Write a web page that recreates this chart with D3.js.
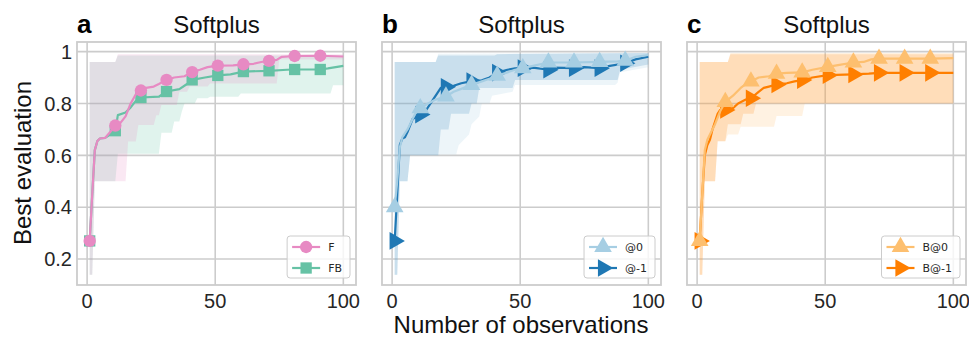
<!DOCTYPE html>
<html><head><meta charset="utf-8">
<script src="https://cdn.jsdelivr.net/npm/d3@7"></script>
<style>body{margin:0;background:#fff}svg{display:block}</style>
</head><body><svg id="c" width="969" height="339"></svg>
<script>
// ---------- data ----------
const xTicks = [0, 50, 100];
const yTicks = [0.2, 0.4, 0.6, 0.8, 1];
const yTickLabels = ["0.2", "0.4", "0.6", "0.8", "1"];
const panelLetters = ["a", "b", "c"];
const panelTitles = ["Softplus", "Softplus", "Softplus"];
const xLabel = "Number of observations";
const yLabel = "Best evaluation";

// Panel a
const F_mean = [[1,0.27],[2,0.45],[3,0.62],[4,0.655],[5,0.665],[7,0.667],[9,0.69],[11,0.715],[13,0.725],[15,0.75],[17,0.8],[19,0.835],[21,0.85],[23,0.86],[26,0.865],[28,0.875],[31,0.891],[34,0.9],[38,0.905],[41,0.921],[44,0.93],[47,0.94],[51,0.946],[57,0.947],[61,0.951],[65,0.953],[68,0.96],[71,0.964],[74,0.968],[76,0.98],[81,0.983],[91,0.984],[100,0.981]];
const F_lo = [[1,0.14],[2,0.14],[3,0.5],[15,0.5],[16,0.653],[19,0.653],[20,0.717],[26,0.717],[27,0.755],[28,0.755],[29,0.794],[35,0.794],[36,0.845],[39,0.845],[40,0.865],[47,0.865],[48,0.877],[74,0.877],[75,0.97],[100,0.97]];
const F_hi = [[1,0.96],[11,0.96],[12,0.99],[100,0.99]];
const FB_mean = [[1,0.27],[2,0.45],[3,0.62],[4,0.655],[5,0.665],[7,0.667],[9,0.68],[11,0.695],[12,0.755],[15,0.765],[17,0.785],[19,0.81],[21,0.823],[28,0.826],[31,0.846],[36,0.855],[39,0.875],[41,0.891],[46,0.9],[51,0.908],[56,0.912],[61,0.923],[71,0.926],[78,0.93],[81,0.931],[91,0.931],[94,0.935],[100,0.945]];
const FB_lo = [[1,0.14],[2,0.14],[3,0.5],[11,0.5],[12,0.606],[28,0.606],[29,0.687],[33,0.687],[34,0.73],[36,0.73],[37,0.77],[38,0.8],[42,0.8],[43,0.82],[47,0.82],[48,0.826],[59,0.826],[60,0.838],[95,0.838],[96,0.87],[100,0.87]];
const FB_hi = [[1,0.96],[11,0.96],[12,0.985],[100,0.985]];

// Panel b
const A0_mean = [[1,0.40],[2,0.50],[3,0.63],[4,0.67],[6,0.70],[9,0.76],[11,0.782],[14,0.80],[17,0.815],[21,0.827],[24,0.845],[28,0.86],[31,0.872],[35,0.885],[38,0.895],[41,0.907],[45,0.92],[48,0.93],[51,0.936],[55,0.945],[61,0.958],[71,0.958],[81,0.96],[88,0.962],[91,0.965],[95,0.98],[100,0.987]];
const A0_lo = [[1,0.14],[2,0.14],[3,0.5],[6,0.5],[7,0.6],[18,0.6],[19,0.603],[25,0.603],[26,0.64],[30,0.68],[31,0.72],[34,0.75],[35,0.8],[38,0.8],[39,0.83],[47,0.845],[48,0.871],[87,0.871],[88,0.88],[89,0.92],[100,0.94]];
const A0_hi = [[1,0.96],[17,0.96],[18,0.992],[100,0.995]];
const Am1_mean = [[1,0.27],[2,0.45],[3,0.64],[4,0.665],[5,0.67],[6,0.69],[8,0.74],[11,0.757],[13,0.77],[15,0.8],[17,0.83],[19,0.86],[21,0.864],[24,0.868],[27,0.878],[31,0.886],[35,0.889],[38,0.9],[41,0.919],[45,0.93],[48,0.935],[51,0.936],[55,0.938],[61,0.93],[63,0.938],[71,0.936],[75,0.94],[81,0.936],[85,0.945],[91,0.955],[95,0.97],[100,0.98]];
const Am1_lo = [[1,0.14],[2,0.14],[3,0.5],[6,0.5],[7,0.6],[18,0.6],[19,0.7],[22,0.7],[23,0.76],[30,0.76],[31,0.8],[33,0.8],[34,0.86],[47,0.86],[48,0.89],[88,0.89],[89,0.93],[100,0.95]];
const Am1_hi = [[1,0.96],[17,0.96],[18,0.985],[40,0.985],[41,0.99],[100,0.995]];

// Panel c
const B0_mean = [[1,0.27],[2,0.45],[3,0.62],[4,0.66],[5,0.68],[7,0.72],[9,0.77],[11,0.806],[14,0.83],[17,0.86],[19,0.875],[21,0.885],[24,0.9],[28,0.905],[31,0.915],[35,0.918],[41,0.92],[45,0.93],[51,0.941],[55,0.948],[61,0.958],[65,0.96],[68,0.97],[71,0.973],[81,0.973],[91,0.973],[100,0.975]];
const B0_lo = [[1,0.14],[2,0.14],[3,0.5],[7,0.5],[8,0.654],[11,0.654],[12,0.68],[16,0.68],[17,0.71],[30,0.71],[31,0.752],[41,0.752],[42,0.8],[100,0.8]];
const B0_hi = [[1,0.96],[12,0.96],[13,0.995],[100,0.995]];
const Bm1_mean = [[1,0.27],[2,0.45],[3,0.6],[4,0.64],[5,0.66],[6,0.7],[8,0.76],[9,0.775],[11,0.775],[14,0.782],[16,0.8],[19,0.815],[21,0.82],[24,0.845],[26,0.86],[28,0.865],[31,0.873],[35,0.878],[38,0.885],[41,0.89],[45,0.9],[51,0.909],[61,0.912],[67,0.915],[71,0.918],[81,0.918],[91,0.918],[100,0.918]];
const Bm1_lo = [[1,0.14],[2,0.14],[3,0.5],[7,0.5],[8,0.654],[11,0.654],[12,0.72],[17,0.72],[18,0.76],[22,0.76],[23,0.8],[100,0.8]];
const Bm1_hi = [[1,0.96],[12,0.96],[13,0.99],[100,0.99]];

const panels = [
  { series: [
      {name:"FB", mean:FB_mean, lo:FB_lo, hi:FB_hi, color:"#66c2a5", marker:"square"},
      {name:"F",  mean:F_mean,  lo:F_lo,  hi:F_hi,  color:"#e78ac3", marker:"circle"}],
    legendOrder:["F","FB"] },
  { series: [
      {name:"@-1", mean:Am1_mean, lo:Am1_lo, hi:Am1_hi, color:"#1f78b4", marker:"right"},
      {name:"@0",  mean:A0_mean,  lo:A0_lo,  hi:A0_hi,  color:"#a6cee3", marker:"up"}],
    legendOrder:["@0","@-1"] },
  { series: [
      {name:"B@-1", mean:Bm1_mean, lo:Bm1_lo, hi:Bm1_hi, color:"#ff7f00", marker:"right"},
      {name:"B@0",  mean:B0_mean,  lo:B0_lo,  hi:B0_hi,  color:"#fdbf6f", marker:"up"}],
    legendOrder:["B@0","B@-1"] }
];

// ---------- layout ----------
const svg = d3.select("#c");
const lefts = [77, 382, 687];
const pw = 279, topY = 42, ph = 243;
const grid = "#cccccc";
const sansF = "Liberation Sans, Arial, sans-serif";

function markerPath(type) {
  if (type === "circle") return d3.symbol(d3.symbolCircle, 120)();
  if (type === "square") return d3.symbol(d3.symbolSquare, 128)();
  return d3.symbol(d3.symbolTriangle, 135)();
}
function markerTransform(type, x, y) {
  return `translate(${x},${y})` + (type === "right" ? " rotate(90)" : "");
}

panels.forEach((p, i) => {
  const L = lefts[i];
  const x = d3.scaleLinear().domain([-3.95, 104.95]).range([L, L + pw]);
  const y = d3.scaleLinear().domain([0.1, 1.037]).range([topY + ph, topY]);
  const g = svg.append("g");

  // grid
  g.selectAll(".gx").data(xTicks).enter().append("line")
    .attr("x1", d => x(d)).attr("x2", d => x(d)).attr("y1", topY).attr("y2", topY + ph)
    .attr("stroke", grid).attr("stroke-width", 1.6);
  g.selectAll(".gy").data(yTicks).enter().append("line")
    .attr("y1", d => y(d)).attr("y2", d => y(d)).attr("x1", L).attr("x2", L + pw)
    .attr("stroke", grid).attr("stroke-width", 1.6);

  const clipId = "clip" + i;
  svg.append("clipPath").attr("id", clipId).append("rect")
    .attr("x", L).attr("y", topY).attr("width", pw).attr("height", ph);
  const plot = g.append("g").attr("clip-path", `url(#${clipId})`);

  const line = d3.line().x(d => x(d[0])).y(d => y(d[1]));

  // bands
  p.series.forEach(s => {
    const poly = s.hi.concat(s.lo.slice().reverse());
    plot.append("path").attr("d", line(poly) + "Z")
      .attr("fill", s.color).attr("fill-opacity", 0.2).attr("stroke", "none");
  });
  // lines + markers
  p.series.forEach(s => {
    plot.append("path").attr("d", line(s.mean)).attr("fill", "none")
      .attr("stroke", s.color).attr("stroke-width", 2.2).attr("stroke-linejoin", "round");
    plot.selectAll(null).data(s.mean.filter(d => (d[0] - 1) % 10 === 0)).enter()
      .append("path").attr("d", markerPath(s.marker))
      .attr("transform", d => markerTransform(s.marker, x(d[0]), y(d[1])))
      .attr("fill", s.color);
  });

  // frame
  g.append("rect").attr("x", L).attr("y", topY).attr("width", pw).attr("height", ph)
    .attr("fill", "none").attr("stroke", grid).attr("stroke-width", 1.8);

  // x tick labels
  g.selectAll(".tx").data(xTicks).enter().append("text")
    .attr("x", d => x(d)).attr("y", 308).attr("text-anchor", "middle")
    .attr("font-family", sansF).attr("font-size", 20).attr("fill", "#262626")
    .text(d => d);
  if (i === 0) {
    g.selectAll(".ty").data(yTicks).enter().append("text")
      .attr("x", L - 5).attr("y", d => y(d)).attr("dy", "0.36em").attr("text-anchor", "end")
      .attr("font-family", sansF).attr("font-size", 20).attr("fill", "#262626")
      .text((d, k) => yTickLabels[k]);
  }

  // title + letter
  g.append("text").attr("x", L + pw / 2).attr("y", 33).attr("text-anchor", "middle")
    .attr("font-family", sansF).attr("font-size", 24).attr("fill", "#111").text(panelTitles[i]);
  g.append("text").attr("x", L).attr("y", 33)
    .attr("font-family", sansF).attr("font-size", 26).attr("font-weight", "bold").attr("fill", "#000")
    .text(panelLetters[i]);

  // legend
  const lg = g.append("g");
  const texts = p.legendOrder.map(n => p.series.find(s => s.name === n));
  const tmp = lg.append("text").attr("font-family", "DejaVu Sans, sans-serif").attr("font-size", 11).text("");
  const tw = d3.max(p.legendOrder, n => { tmp.text(n); return tmp.node().getComputedTextLength(); });
  tmp.remove();
  const bw = 5 + 28 + 8 + tw + 8, bh = 42;
  const bx = L + pw - 6 - bw, by = 236;
  lg.append("rect").attr("x", bx).attr("y", by).attr("width", bw).attr("height", bh)
    .attr("rx", 3).attr("fill", "#fff").attr("fill-opacity", 0.8)
    .attr("stroke", grid).attr("stroke-width", 1);
  texts.forEach((s, k) => {
    const yy = by + 11 + k * 21;
    lg.append("line").attr("x1", bx + 5).attr("x2", bx + 33).attr("y1", yy).attr("y2", yy)
      .attr("stroke", s.color).attr("stroke-width", 2.2);
    lg.append("path").attr("d", markerPath(s.marker))
      .attr("transform", markerTransform(s.marker, bx + 19, yy)).attr("fill", s.color);
    lg.append("text").attr("x", bx + 41).attr("y", yy).attr("dy", "0.36em")
      .attr("font-family", "DejaVu Sans, sans-serif").attr("font-size", 11).attr("fill", "#262626")
      .text(s.name);
  });
});

// axis labels
svg.append("text").attr("x", 521).attr("y", 333).attr("text-anchor", "middle")
  .attr("font-family", sansF).attr("font-size", 24).attr("fill", "#111").text(xLabel);
svg.append("text").attr("transform", "translate(31,163) rotate(-90)").attr("text-anchor", "middle")
  .attr("font-family", sansF).attr("font-size", 24).attr("fill", "#111").text(yLabel);
</script></body></html>
